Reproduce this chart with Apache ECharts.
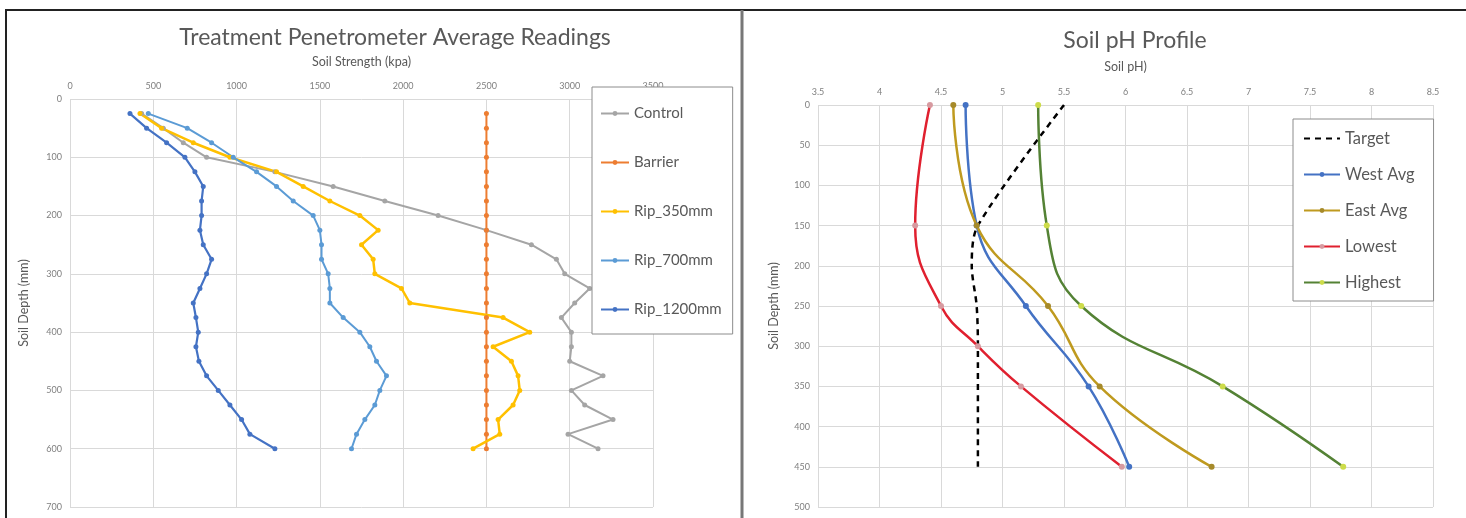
<!DOCTYPE html>
<html lang="en">
<head>
  <meta charset="UTF-8">
  <title>Penetrometer and Soil pH</title>
  <script src="https://cdn.jsdelivr.net/npm/echarts@6/dist/echarts.min.js"></script>
</head>
<body style="margin:0;background:#fff;">
  <div id="container" style="width:1466px;height:518px;"></div>
  <script>
    // left chart: soil strength (kpa) at each depth (mm)
    var depthMm = [25, 50, 75, 100, 125, 150, 175, 200, 225, 250, 275, 300,
                   325, 350, 375, 400, 425, 450, 475, 500, 525, 550, 575, 600];
    var control = [430, 560, 680, 820, 1230, 1580, 1890, 2210, 2500, 2770, 2920, 2970,
                   3120, 3030, 2950, 3010, 3010, 3000, 3200, 3010, 3090, 3260, 2990, 3170];
    var barrier = [2500, 2500, 2500, 2500, 2500, 2500, 2500, 2500, 2500, 2500, 2500, 2500,
                   2500, 2500, 2500, 2500, 2500, 2500, 2500, 2500, 2500, 2500, 2500, 2500];
    var rip350 = [420, 550, 740, 960, 1240, 1400, 1560, 1740, 1850, 1750, 1820, 1830,
                  1990, 2040, 2600, 2760, 2540, 2650, 2690, 2700, 2660, 2570, 2580, 2420];
    var rip700 = [470, 704, 850, 980, 1120, 1240, 1340, 1460, 1500, 1510, 1510, 1550,
                  1560, 1560, 1640, 1740, 1800, 1840, 1900, 1860, 1830, 1770, 1720, 1690];
    var rip1200 = [360, 460, 580, 690, 750, 800, 790, 790, 780, 800, 850, 820,
                   780, 740, 756, 770, 756, 774, 820, 890, 960, 1030, 1080, 1230];

    // right chart: pH at depth (mm)
    var phDepth = [0, 150, 250, 350, 450];
    var westAvg = [4.70, 4.79, 5.19, 5.70, 6.03];
    var eastAvg = [4.60, 4.79, 5.37, 5.79, 6.70];
    var highest = [5.29, 5.36, 5.64, 6.79, 7.77];
    var lowestDepth = [0, 150, 250, 300, 350, 450];
    var lowest = [4.41, 4.29, 4.50, 4.80, 5.15, 5.97];
    var targetDepth = [0, 150, 200, 250, 300, 450];
    var target = [5.5, 4.8, 4.75, 4.79, 4.8, 4.8];

    function pairs(xs, ys) {
      return xs.map(function (v, i) { return [v, ys[i]]; });
    }

    var font = 'Lato';
    var textGrey = '#595959';
    var tickGrey = '#7f7f7f';
    var gridLine = { show: true, lineStyle: { color: '#d9d9d9', width: 1 } };

    function axisCommon(extra) {
      return Object.assign({
        type: 'value',
        axisLine: { show: false },
        axisTick: { show: false },
        splitLine: gridLine,
        axisLabel: { color: tickGrey, fontSize: 9, fontFamily: font, formatter: function (v) { return String(v); } },
        nameTextStyle: { color: textGrey, fontSize: 12.5, fontFamily: font }
      }, extra);
    }

    function leftLine(name, color, xs, width) {
      return {
        name: name, type: 'line', xAxisIndex: 0, yAxisIndex: 0,
        data: pairs(xs, depthMm),
        symbol: 'circle', symbolSize: 5,
        lineStyle: { color: color, width: width || 2 },
        itemStyle: { color: color },
        animation: false
      };
    }

    function rightLine(name, color, markColor, ys, ds) {
      return {
        name: name, type: 'line', xAxisIndex: 1, yAxisIndex: 1,
        data: pairs(ys, ds),
        smooth: 0.45,
        symbol: 'circle', symbolSize: 6,
        lineStyle: { color: color, width: 2.5 },
        itemStyle: { color: markColor },
        animation: false
      };
    }

    var myChart = echarts.init(document.getElementById('container'));
    myChart.setOption({
      backgroundColor: '#ffffff',
      animation: false,
      title: [
        { text: 'Treatment Penetrometer Average Readings', left: 390, top: 21, textAlign: 'center',
          textStyle: { color: textGrey, fontSize: 23, fontWeight: 'normal', fontFamily: font } },
        { text: 'Soil pH Profile', left: 1130, top: 24, textAlign: 'center',
          textStyle: { color: textGrey, fontSize: 23, fontWeight: 'normal', fontFamily: font } }
      ],
      grid: [
        { left: 70, top: 99, width: 583, height: 408 },
        { left: 818, top: 105, width: 615, height: 402 }
      ],
      xAxis: [
        axisCommon({ gridIndex: 0, position: 'top', min: 0, max: 3500, interval: 500,
          name: 'Soil Strength (kpa)', nameLocation: 'middle', nameGap: 31 }),
        axisCommon({ gridIndex: 1, position: 'top', min: 3.5, max: 8.5, interval: 0.5,
          name: 'Soil pH)', nameLocation: 'middle', nameGap: 32 })
      ],
      yAxis: [
        axisCommon({ gridIndex: 0, inverse: true, min: 0, max: 700, interval: 100,
          name: 'Soil Depth (mm)', nameLocation: 'middle', nameGap: 40 }),
        axisCommon({ gridIndex: 1, inverse: true, min: 0, max: 500, interval: 50,
          name: 'Soil Depth (mm)', nameLocation: 'middle', nameGap: 38 })
      ],
      legend: [
        {
          data: ['Control', 'Barrier', 'Rip_350mm', 'Rip_700mm', 'Rip_1200mm'],
          orient: 'vertical', left: 592, top: 87,
          padding: [19, 11, 17, 8],
          itemWidth: 28, itemHeight: 6, itemGap: 34,
          backgroundColor: '#ffffff', borderColor: '#8c8c8c', borderWidth: 1,
          textStyle: { color: textGrey, fontSize: 15, fontFamily: font }
        },
        {
          data: [
            { name: 'Target', itemStyle: { opacity: 0 } },
            'West Avg', 'East Avg', 'Lowest', 'Highest'
          ],
          orient: 'vertical', left: 1293, top: 119,
          padding: [11, 19, 10, 10],
          itemWidth: 36, itemHeight: 6, itemGap: 19,
          backgroundColor: '#ffffff', borderColor: '#8c8c8c', borderWidth: 1,
          textStyle: { color: textGrey, fontSize: 16.5, fontFamily: font }
        }
      ],
      graphic: [
        { type: 'line', shape: { x1: 5, y1: 10, x2: 1466, y2: 10 }, style: { stroke: '#222', lineWidth: 2 } },
        { type: 'line', shape: { x1: 6, y1: 10, x2: 6, y2: 518 }, style: { stroke: '#222', lineWidth: 2 } },
        { type: 'line', shape: { x1: 742, y1: 10, x2: 742, y2: 518 }, style: { stroke: '#777', lineWidth: 3 } }
      ],
      series: [
        leftLine('Control', '#a5a5a5', control),
        leftLine('Barrier', '#ed7d31', barrier),
        leftLine('Rip_350mm', '#ffc000', rip350, 2.5),
        leftLine('Rip_700mm', '#5b9bd5', rip700),
        leftLine('Rip_1200mm', '#4472c4', rip1200, 2.2),
        {
          name: 'Target', type: 'line', xAxisIndex: 1, yAxisIndex: 1,
          data: pairs(target, targetDepth),
          smooth: 0.3, symbol: 'none',
          lineStyle: { color: '#000000', width: 2.5, type: [6, 5] },
          itemStyle: { color: '#000000' },
          animation: false
        },
        rightLine('West Avg', '#4472c4', '#4472c4', westAvg, phDepth),
        rightLine('East Avg', '#bf9a1f', '#a68a2a', eastAvg, phDepth),
        rightLine('Lowest', '#e0202f', '#d79aa0', lowest, lowestDepth),
        rightLine('Highest', '#548235', '#cddc4a', highest, phDepth)
      ]
    });
  </script>
</body>
</html>
